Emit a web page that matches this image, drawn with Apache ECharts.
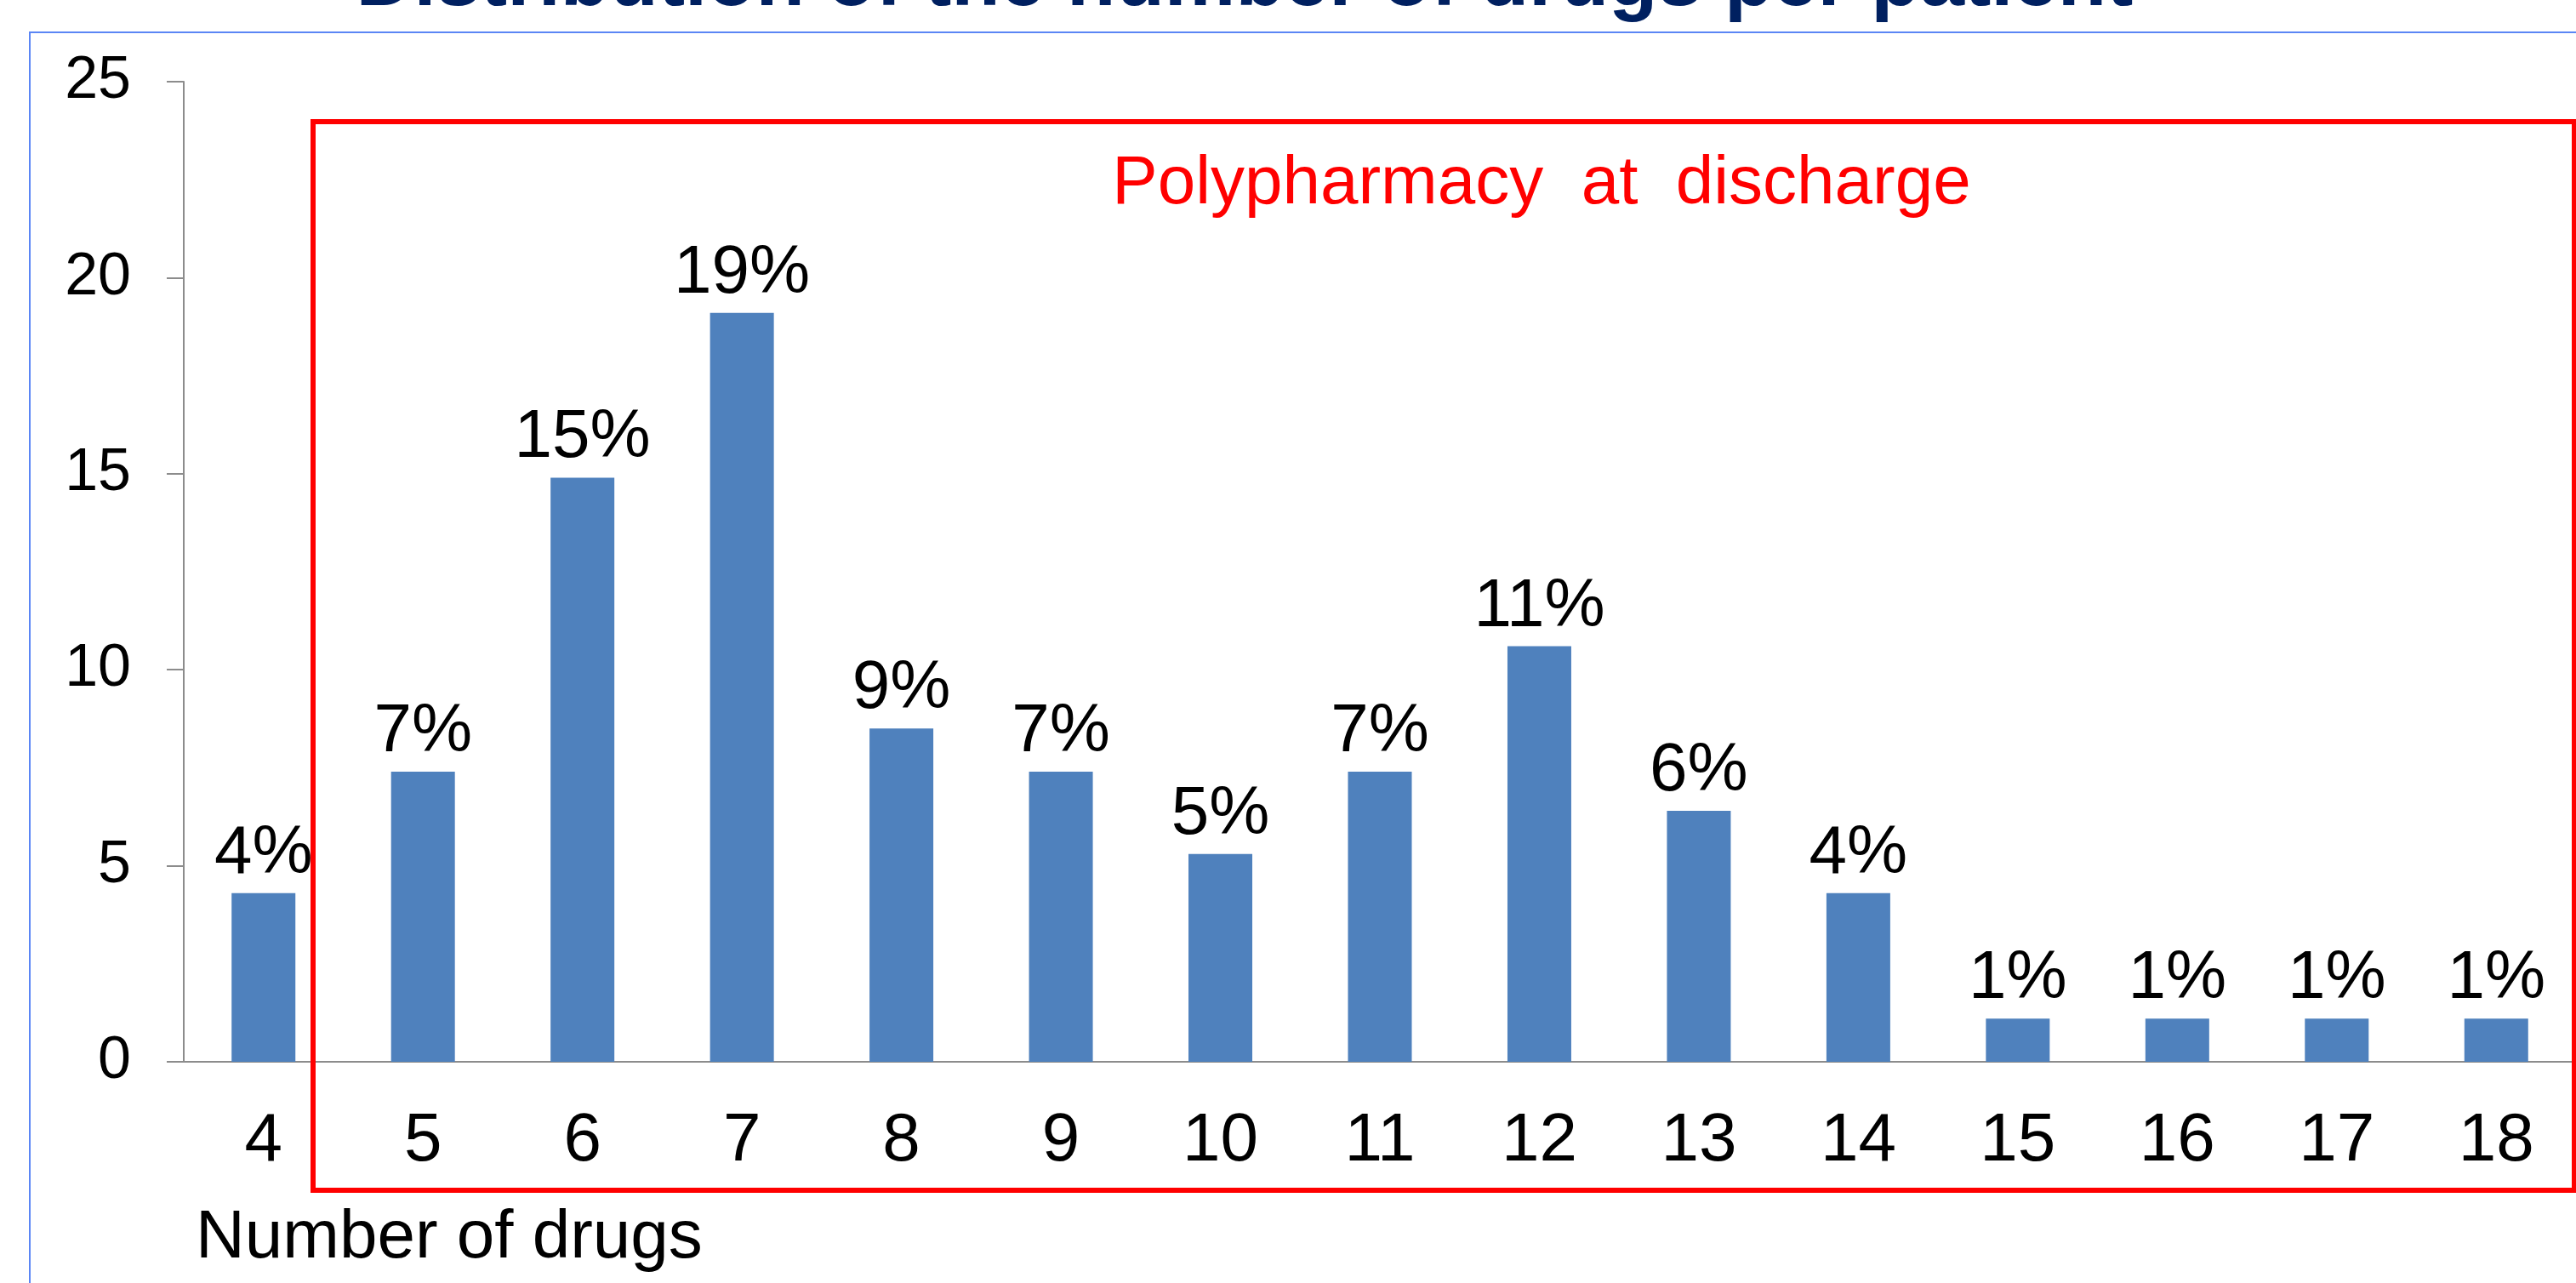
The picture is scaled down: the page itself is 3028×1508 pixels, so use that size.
<!DOCTYPE html>
<html>
<head>
<meta charset="utf-8">
<title>Distribution of the number of drugs per patient</title>
<script src="https://cdn.jsdelivr.net/npm/echarts@6/dist/echarts.min.js"></script>
<style>
    html, body {
        margin: 0;
        padding: 0;
        background: #fff;
        overflow: hidden;
    }

    #chart {
        width: 3028px;
        height: 1508px;
    }
</style>
</head>
<body>
<div id="chart"></div>
<script>
// number of drugs at discharge
const drugCounts = ['4', '5', '6', '7', '8', '9', '10', '11', '12', '13', '14', '15', '16', '17', '18'];
// share of patients (%)
const patientShare = [4.3, 7.4, 14.9, 19.1, 8.5, 7.4, 5.3, 7.4, 10.6, 6.4, 4.3, 1.1, 1.1, 1.1, 1.1];
// labels printed over the bars
const shareLabels = ['4%', '7%', '15%', '19%', '9%', '7%', '5%', '7%', '11%', '6%', '4%', '1%', '1%', '1%', '1%'];
// y axis ticks
const yTicks = [0, 5, 10, 15, 20, 25];

const FONT = '"Liberation Sans", Arial, sans-serif';
const axisGrey = '#8c8c8c';

const chart = echarts.init(document.getElementById('chart'));

chart.setOption({
    animation: false,
    backgroundColor: '#fff',
    grid: {
        left: 216,
        top: 96,
        width: 2836,
        height: 1152,
    },
    xAxis: {
        type: 'category',
        data: drugCounts,
        axisLine: {lineStyle: {color: axisGrey, width: 2}},
        axisTick: {length: 22, lineStyle: {color: axisGrey, width: 2}},
        axisLabel: {
            margin: 54,
            color: '#000',
            fontSize: 80,
            fontFamily: FONT,
        },
    },
    yAxis: {
        type: 'value',
        min: yTicks[0],
        max: yTicks[yTicks.length - 1],
        interval: 5,
        splitLine: {show: false},
        axisLine: {show: true, lineStyle: {color: axisGrey, width: 2}},
        axisTick: {show: true, length: 20, lineStyle: {color: axisGrey, width: 2}},
        axisLabel: {
            margin: 62,
            color: '#000',
            fontSize: 70,
            fontFamily: FONT,
        },
    },
    series: [
        {
            type: 'bar',
            data: patientShare,
            barWidth: 75,
            itemStyle: {color: '#4f81bd'},
            label: {
                show: true,
                position: 'top',
                distance: 6,
                color: '#000',
                fontSize: 80,
                fontFamily: FONT,
                formatter: (p) => shareLabels[p.dataIndex],
            },
        },
    ],
    graphic: [
        // slide frame
        {
            type: 'rect',
            z: 0,
            shape: {x: 35, y: 38, width: 3200, height: 1600},
            style: {fill: null, stroke: '#5b86f5', lineWidth: 2},
        },
        // title, mostly cut off at the top
        {
            type: 'text',
            z: 10,
            x: 1463,
            y: -20,
            style: {
                text: 'Distribution of the number of drugs per patient',
                font: 'bold 94px ' + FONT,
                fill: '#002060',
                align: 'center',
                verticalAlign: 'middle',
            },
        },
        // polypharmacy box
        {
            type: 'rect',
            z: 10,
            shape: {x: 368, y: 143, width: 2658, height: 1256},
            style: {fill: null, stroke: '#ff0000', lineWidth: 6},
        },
        {
            type: 'text',
            z: 10,
            x: 1812,
            y: 217,
            style: {
                text: 'Polypharmacy  at  discharge',
                font: '80px ' + FONT,
                fill: '#ff0000',
                align: 'center',
                verticalAlign: 'middle',
            },
        },
        {
            type: 'text',
            z: 10,
            x: 230,
            y: 1456,
            style: {
                text: 'Number of drugs',
                font: '80px ' + FONT,
                fill: '#000',
                align: 'left',
                verticalAlign: 'middle',
            },
        },
    ],
});
</script>
</body>
</html>
